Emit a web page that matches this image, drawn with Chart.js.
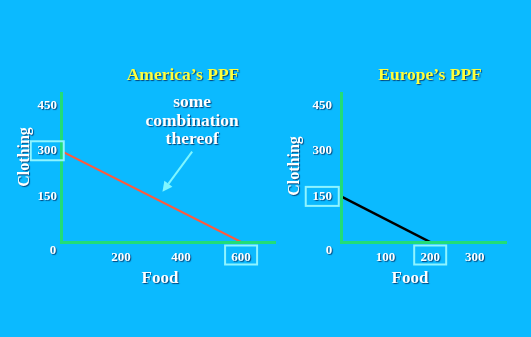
<!DOCTYPE html>
<html>
<head>
<meta charset="utf-8">
<script src="https://cdn.jsdelivr.net/npm/chart.js@4.4.1/dist/chart.umd.min.js"></script>
<style>
  body { margin: 0; background: #0bbaff; width: 531px; height: 337px; overflow: hidden; position: relative; }
  canvas { position: absolute; top: 0; }
  #left { left: 0; }
  #right { left: 280px; }
</style>
</head>
<body>
<canvas id="left" width="280" height="337"></canvas>
<canvas id="right" width="251" height="337"></canvas>
<script>
// America's PPF
var usFood = [0, 600];
var usClothing = [300, 0];
var usFoodTicks = [200, 400, 600];
var usMarkedFood = [600];
var usMarkedClothing = [300];

// Europe's PPF
var euFood = [0, 200];
var euClothing = [150, 0];
var euFoodTicks = [100, 200, 300];
var euMarkedFood = [200];
var euMarkedClothing = [150];

var clothingTicks = [150, 300, 450];

// note + arrow on America's chart (food, clothing)
var noteLines = ['some', 'combination', 'thereof'];
var noteTail = [437, 297];
var noteTip = [338, 165];

var serif = '"Liberation Serif", "Times New Roman", serif';
var shadow = 'rgba(0,20,70,0.7)';

function setShadow(ctx) {
    ctx.shadowColor = shadow;
    ctx.shadowOffsetX = 1;
    ctx.shadowOffsetY = 1;
    ctx.shadowBlur = 1;
}

var decor = {
    id: 'decor',
    beforeDraw: function (chart) {
        setShadow(chart.ctx);
    },
    beforeDatasetsDraw: function (chart) {
        chart.ctx.shadowColor = 'rgba(0,0,0,0)';
    },
    afterDraw: function (chart, args, opts) {
        var ctx = chart.ctx;
        var a = chart.chartArea;
        var xs = chart.scales.x, ys = chart.scales.y;
        ctx.save();
        setShadow(ctx);
        ctx.textAlign = 'center';
        ctx.textBaseline = 'middle';

        // chart title
        ctx.font = 'bold 17.5px ' + serif;
        ctx.fillStyle = '#ffff3c';
        ctx.fillText(opts.title, a.left + opts.titleDx, a.top - 18);

        // axis titles
        ctx.fillStyle = '#ffffff';
        ctx.font = 'bold 17px ' + serif;
        ctx.fillText('Food', a.left + opts.foodDx, a.bottom + 37);
        ctx.save();
        ctx.translate(a.left + opts.clothDx, opts.clothY);
        ctx.rotate(-Math.PI / 2);
        ctx.font = 'bold 16px ' + serif;
        ctx.fillText('Clothing', 0, 0);
        ctx.restore();

        // the corner zero
        ctx.font = 'bold 13px ' + serif;
        ctx.fillText('0', a.left + opts.zeroDx, a.bottom + 9);

        // note and arrow
        if (opts.note) {
            var tx = xs.getPixelForValue(noteTail[0]), ty = ys.getPixelForValue(noteTail[1]);
            var px = xs.getPixelForValue(noteTip[0]), py = ys.getPixelForValue(noteTip[1]);
            ctx.font = 'bold 17.5px ' + serif;
            var offs = [-49, -30.5, -12];
            noteLines.forEach(function (t, i) {
                ctx.fillText(t, tx, ty + offs[i]);
            });
            ctx.shadowColor = 'rgba(0,0,0,0)';
            var ang = Math.atan2(py - ty, px - tx);
            var hl = 10, hw = 5;
            var bx = px - hl * Math.cos(ang), by = py - hl * Math.sin(ang);
            ctx.strokeStyle = '#7ff6ff';
            ctx.lineWidth = 2;
            ctx.beginPath();
            ctx.moveTo(tx, ty);
            ctx.lineTo(bx, by);
            ctx.stroke();
            ctx.fillStyle = '#7ff6ff';
            ctx.beginPath();
            ctx.moveTo(px, py);
            ctx.lineTo(bx + hw * Math.sin(ang), by - hw * Math.cos(ang));
            ctx.lineTo(bx - hw * Math.sin(ang), by + hw * Math.cos(ang));
            ctx.closePath();
            ctx.fill();
        }

        // boxes round the marked tick labels
        ctx.shadowColor = 'rgba(0,0,0,0)';
        ctx.strokeStyle = '#8ff4ff';
        ctx.lineWidth = 2;
        ctx.font = 'bold 13px ' + serif;
        opts.markY.forEach(function (v) {
            var y = ys.getPixelForValue(v);
            var w = ctx.measureText(String(v)).width;
            var cx = a.left - ys.options.ticks.padding - w / 2;
            ctx.strokeRect(cx - 16.5, y - 9.5, 33, 19);
        });
        opts.markX.forEach(function (v) {
            var x = xs.getPixelForValue(v);
            ctx.strokeRect(x - 16, a.bottom + 3.5, 32, 19);
        });
        ctx.restore();
    }
};

function makeChart(id, food, clothing, lineColor, lineWidth, xMax, xTicks, pad, extra) {
    var tickFont = { family: serif, size: 13, weight: 'bold' };
    return new Chart(document.getElementById(id), {
        type: 'line',
        data: {
            datasets: [{
                data: food.map(function (f, i) { return { x: f, y: clothing[i] }; }),
                borderColor: lineColor,
                borderWidth: lineWidth,
                pointRadius: 0,
                fill: false
            }]
        },
        options: {
            responsive: false,
            animation: false,
            layout: { padding: { top: 93, right: pad.right, left: 0, bottom: 0 } },
            plugins: {
                legend: { display: false },
                tooltip: { enabled: false },
                decor: extra
            },
            scales: {
                x: {
                    type: 'linear',
                    min: 0,
                    max: xMax,
                    afterBuildTicks: function (s) { s.ticks = xTicks.map(function (v) { return { value: v }; }); },
                    afterFit: function (s) { s.height = 95; },
                    grid: { display: false, drawTicks: false },
                    border: { color: '#22dd77', width: 3, z: 1 },
                    ticks: { color: '#ffffff', font: tickFont, padding: 8, maxRotation: 0, autoSkip: false }
                },
                y: {
                    type: 'linear',
                    min: 0,
                    max: 490,
                    afterBuildTicks: function (s) { s.ticks = clothingTicks.map(function (v) { return { value: v }; }); },
                    afterFit: function (s) { s.width = 61; },
                    grid: { display: false, drawTicks: false },
                    border: { color: '#22dd77', width: 3, z: 1 },
                    ticks: { color: '#ffffff', font: tickFont, padding: pad.tick, autoSkip: false }
                }
            }
        },
        plugins: [decor]
    });
}

makeChart('left', usFood, usClothing, '#ff5a3c', 2, 713, usFoodTicks,
    { right: 5, tick: 4 },
    { title: 'America\u2019s PPF', titleDx: 122, zeroDx: -8, foodDx: 99, clothDx: -36, clothY: 157,
      note: true, markX: usMarkedFood, markY: usMarkedClothing });

makeChart('right', euFood, euClothing, '#000000', 2.5, 370, euFoodTicks,
    { right: 25, tick: 9 },
    { title: 'Europe\u2019s PPF', titleDx: 89, zeroDx: -12, foodDx: 69, clothDx: -46, clothY: 166,
      note: false, markX: euMarkedFood, markY: euMarkedClothing });
</script>
</body>
</html>
